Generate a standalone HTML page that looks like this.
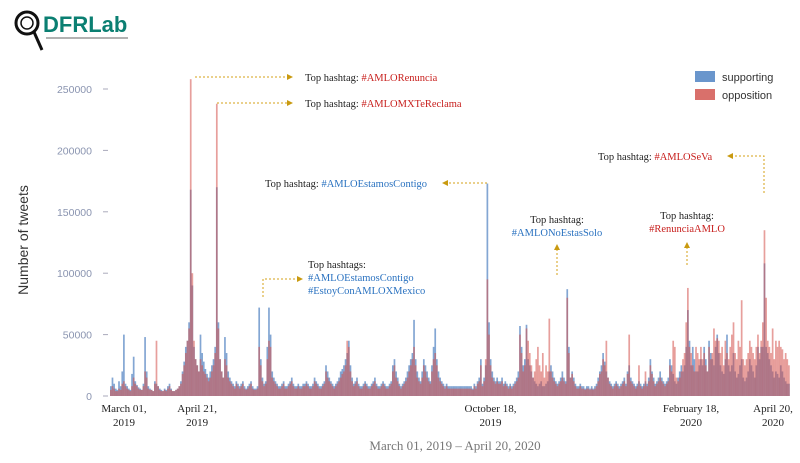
<!DOCTYPE html>
<html><head><meta charset="utf-8"><style>
body{margin:0;background:#fff;width:800px;height:463px;overflow:hidden}
svg{display:block}
.ann{font-family:"Liberation Serif",serif;font-size:10.5px;fill:#222}
.b{fill:#2a72c0}.r{fill:#c8201e}
</style></head><body>
<svg id="chart" width="800" height="463" viewBox="0 0 800 463">
<g>
<circle cx="27" cy="23" r="11" fill="none" stroke="#111" stroke-width="3"/>
<circle cx="27" cy="23" r="6" fill="none" stroke="#111" stroke-width="1.5"/>
<line x1="34" y1="32" x2="42" y2="50" stroke="#111" stroke-width="3"/>
<text x="43" y="32" font-family="Liberation Sans,sans-serif" font-weight="bold" font-size="22" fill="#0b7f72">DFRLab</text>
<line x1="46" y1="38" x2="128" y2="38" stroke="#999" stroke-width="1.5"/>
</g>
<g id="yaxis"></g>
<text transform="translate(28,240) rotate(-90)" text-anchor="middle" font-family="Liberation Sans,sans-serif" font-size="14" fill="#333">Number of tweets</text>
<g id="bars"></g>
<g id="xaxis"></g>
<text x="455" y="450" text-anchor="middle" font-family="Liberation Serif,serif" font-size="13" fill="#777">March 01, 2019 – April 20, 2020</text>
<g>
<rect x="695" y="71" width="20" height="11" fill="#6a96cc"/><text x="722" y="81" font-family="Liberation Sans,sans-serif" font-size="11" fill="#333">supporting</text>
<rect x="695" y="89" width="20" height="11" fill="#d9706b"/><text x="722" y="99" font-family="Liberation Sans,sans-serif" font-size="11" fill="#333">opposition</text>
</g>
<g stroke="#d4a017" stroke-width="1" stroke-dasharray="2,2" fill="none">
<path d="M195 77 H290"/><path d="M217 103 H290"/><path d="M487 183 H448"/>
<path d="M263 297 V279 H298"/><path d="M557 275 V250"/><path d="M687 265 V248"/><path d="M764 193 V156 H733"/>
</g>
<g fill="#c99a10">
<path d="M287 74 l6 3 l-6 3z"/><path d="M287 100 l6 3 l-6 3z"/><path d="M448 180 l-6 3 l6 3z"/>
<path d="M297 276 l6 3 l-6 3z"/><path d="M554 250 l3 -6 l3 6z"/><path d="M684 248 l3 -6 l3 6z"/><path d="M733 153 l-6 3 l6 3z"/>
</g>
<text class="ann" x="305" y="81">Top hashtag: <tspan class="r">#AMLORenuncia</tspan></text>
<text class="ann" x="305" y="107">Top hashtag: <tspan class="r">#AMLOMXTeReclama</tspan></text>
<text class="ann" x="265" y="187">Top hashtag: <tspan class="b">#AMLOEstamosContigo</tspan></text>
<text class="ann" x="308" y="268">Top hashtags:<tspan class="b" x="308" dy="13">#AMLOEstamosContigo</tspan><tspan class="b" x="308" dy="13">#EstoyConAMLOXMexico</tspan></text>
<text class="ann" x="557" y="223" text-anchor="middle">Top hashtag:<tspan class="b" x="557" dy="13">#AMLONoEstasSolo</tspan></text>
<text class="ann" x="687" y="219" text-anchor="middle">Top hashtag:<tspan class="r" x="687" dy="13">#RenunciaAMLO</tspan></text>
<text class="ann" x="598" y="160">Top hashtag: <tspan class="r">#AMLOSeVa</tspan></text>
</svg>
<script>
const supporting=[8,15,10,6,5,12,8,20,50,10, 8,6,5,18,32,12,9,7,6,5, 10,48,20,8,6,5,4,12,10,8, 6,5,4,6,5,8,10,6,4,4,
5,6,8,12,20,28,40,45,60,168, 90,40,30,25,20,50,35,28,22,18, 15,20,25,30,40,170,60,30,20,15, 48,35,20,15,12,10,8,12,10,8,
10,12,8,6,8,10,12,8,6,6, 8,72,30,15,10,12,40,72,50,20, 15,12,10,8,8,10,12,8,8,10, 12,15,10,8,8,10,8,8,10,10,
12,10,8,8,10,15,12,10,8,8, 10,12,25,20,15,12,10,8,10,12, 15,20,22,25,30,35,45,25,15,10, 12,15,10,8,8,10,12,10,8,8,
10,12,15,10,8,8,10,12,10,8, 8,10,12,25,30,20,15,10,8,10, 12,15,20,25,30,35,62,30,20,15, 12,20,30,25,20,15,12,25,40,55,
30,20,15,12,10,8,10,8,8,8, 8,8,8,8,8,8,8,8,8,8, 8,8,6,10,8,12,15,30,10,15, 25,173,60,30,20,15,12,15,12,12,
15,10,12,10,8,10,8,10,12,15, 20,57,40,25,30,58,30,25,20,15, 12,10,8,10,12,8,8,10,12,20, 25,20,15,12,10,12,15,20,15,12,
87,40,15,20,15,10,8,8,10,8, 8,6,8,8,6,8,6,8,10,15, 20,25,35,28,20,15,12,10,8,10, 12,10,8,10,12,15,10,20,25,15,
12,10,8,10,12,10,8,10,12,10, 15,30,20,15,10,12,15,20,15,12, 10,12,15,30,25,18,12,10,15,20, 25,20,25,40,70,45,25,40,30,20,
20,25,30,25,40,30,20,45,35,30, 25,40,50,35,25,20,18,30,50,25, 20,25,35,20,15,18,25,30,15,12, 15,20,30,25,20,15,25,40,30,40,
40,108,40,35,30,25,20,15,20,18, 15,25,20,15,12,10,10];
const opposition=[5,8,6,4,4,6,5,10,12,8, 6,5,4,8,15,10,8,6,5,5, 8,20,15,6,5,5,4,10,45,8, 5,4,4,5,4,6,8,5,4,4,
5,6,8,10,18,25,35,45,55,258, 100,45,30,25,20,30,25,20,18,15, 12,15,20,25,35,238,55,30,20,15, 30,25,15,12,10,8,6,10,8,6,
8,10,6,5,6,8,10,6,5,5, 6,40,25,12,8,10,30,45,40,15, 12,10,8,6,6,8,10,6,6,8, 10,12,8,6,6,8,6,6,8,8,
10,8,6,6,8,12,10,8,6,6, 8,10,20,15,12,10,8,6,8,10, 12,15,18,20,25,45,40,20,12,8, 10,12,8,6,6,8,10,8,6,6,
8,10,12,8,6,6,8,10,8,6, 6,8,10,20,25,15,12,8,6,8, 10,12,15,20,25,30,40,25,15,12, 10,15,25,20,15,12,10,20,30,35,
25,15,12,10,8,6,8,6,6,6, 6,6,6,6,6,6,6,6,6,6, 6,6,5,8,6,10,12,25,8,12, 30,95,50,25,15,12,10,12,10,10,
12,8,10,8,6,8,6,8,10,12, 15,50,35,20,25,55,45,35,25,15, 20,30,40,25,20,35,15,25,20,63, 20,15,12,10,8,10,12,15,12,10,
80,35,15,18,12,8,6,6,8,6, 6,5,6,6,5,6,5,6,8,12, 18,20,30,25,45,15,10,8,6,8, 10,8,6,8,10,12,8,18,50,12,
10,8,6,8,25,8,6,8,20,8, 12,25,18,12,8,10,12,15,12,10, 8,10,12,25,20,45,40,15,12,15, 20,30,35,60,88,40,35,25,20,40,
35,30,40,30,35,25,20,40,30,35, 55,45,47,45,35,40,25,45,35,30, 40,50,60,35,30,45,40,78,30,25, 30,35,45,40,35,30,40,50,35,45,
60,135,80,45,40,35,55,30,45,40, 45,40,38,30,35,30,25];
const yTicks=[0,50000,100000,150000,200000,250000];
const xLabelDays=[0,51,231,354,416];
const xLabelTop=["March 01,","April 21,","October 18,","February 18,","April 20,"];
const xLabelBottom=["2019","2019","2019","2020","2020"];

const NS="http://www.w3.org/2000/svg";
const x0=110,pxPerDay=1.63,y0=396,yTop=89,yMax=250000;
const xs=d=>x0+d*pxPerDay;
const ys=v=>y0-(v/yMax)*(y0-yTop);
function mk(tag,attrs,parent){const e=document.createElementNS(NS,tag);for(const k in attrs)e.setAttribute(k,attrs[k]);parent.appendChild(e);return e;}
const yg=document.getElementById('yaxis');
yTicks.forEach(t=>{
 const l=mk('line',{x1:103,x2:108,y1:ys(t),y2:ys(t),stroke:'#aab',"stroke-width":1},yg);
 
 
 const tx=mk('text',{x:92,y:ys(t)+4,"text-anchor":"end","font-family":"Liberation Sans,sans-serif","font-size":10.5,fill:'#8a94b0'},yg);
 tx.textContent=String(t);
 
 
});
const bg=document.getElementById('bars');
supporting.forEach((v,i)=>{
 const r=mk('rect',{x:xs(i),y:ys(v*1000),width:1.7,height:y0-ys(v*1000),fill:'#5a88c4','fill-opacity':0.75},bg);
 
 
});
opposition.forEach((v,i)=>{
 const r=mk('rect',{x:xs(i),y:ys(v*1000),width:1.7,height:y0-ys(v*1000),fill:'#d4514b','fill-opacity':0.55},bg);
 
 
});
const xg=document.getElementById('xaxis');
xLabelDays.forEach((d,i)=>{
 const cx=Math.min(Math.max(xs(d)+4,124),773);
 const t=mk('text',{x:cx,y:412,"text-anchor":"middle","font-family":"Liberation Serif,serif","font-size":11,fill:'#222'},xg);
 t.textContent=xLabelTop[i];
 
 
 const t2=mk('text',{x:cx,y:426,"text-anchor":"middle","font-family":"Liberation Serif,serif","font-size":11,fill:'#222'},xg);
 t2.textContent=xLabelBottom[i];
 
 
});
</script>
</body></html>
